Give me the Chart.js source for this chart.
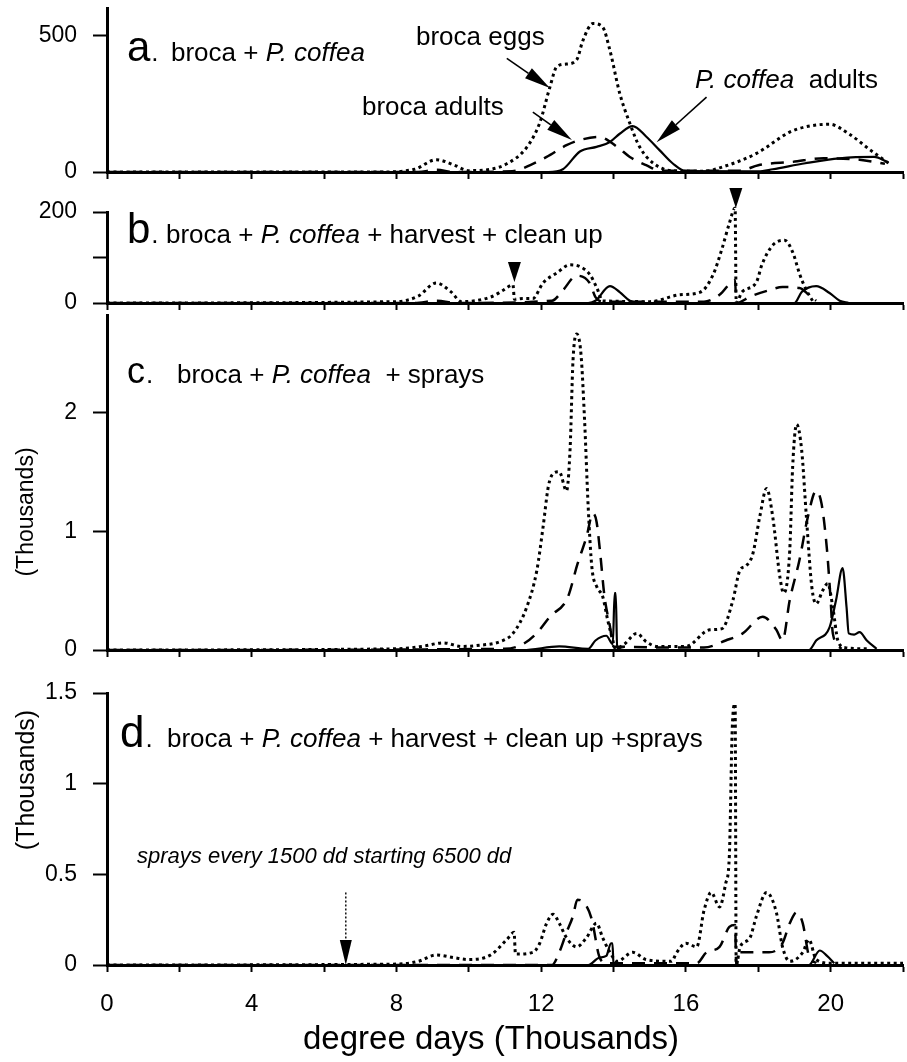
<!DOCTYPE html>
<html>
<head>
<meta charset="utf-8">
<script src="https://cdn.jsdelivr.net/npm/chart.js@4.4.1/dist/chart.umd.min.js"></script>
<style>
  html, body { margin: 0; padding: 0; background: #fff; }
  #wrap { position: relative; width: 907px; height: 1062px; overflow: hidden; }
  canvas { position: absolute; left: 0; }
</style>
</head>
<body>
<div id="wrap">
  <canvas id="pa" width="907" height="190" style="top:0px"></canvas>
  <canvas id="pb" width="907" height="135" style="top:180px"></canvas>
  <canvas id="pc" width="907" height="360" style="top:305px"></canvas>
  <canvas id="pd" width="907" height="397" style="top:665px"></canvas>
</div>
<script>
// x axis: degree days (thousands)
const xTicks  = [0, 2, 4, 6, 8, 10, 12, 14, 16, 18, 20, 22];
const xLabels = [0, 4, 8, 12, 16, 20];

// a. broca + P. coffea
const aEggsX  = [0, 7.5, 8.5, 9.1, 9.6, 10.0, 10.6, 11.05, 11.6, 11.96, 12.24, 12.43, 12.7, 12.98, 13.15, 13.43, 13.7, 13.9, 14.17, 14.45, 14.72, 15.1, 15.6, 16.5, 17.0, 17.95, 18.87, 19.3, 19.97, 20.5, 21.1, 21.6];
const aEggsY  = [0, 0, 10, 45, 25, 5, 10, 30, 90, 180, 310, 385, 395, 410, 480, 543, 530, 445, 288, 178, 92, 32, 5, 3, 18, 68, 146, 165, 175, 140, 80, 32];
const aAdultX = [0, 8.6, 9.1, 9.6, 11.2, 11.77, 12.15, 12.7, 13.07, 13.6, 14.1, 14.45, 14.9, 15.3, 17.5, 18.0, 18.95, 19.8, 20.8, 21.5];
const aAdultY = [0, 0, 8, 0, 3, 30, 55, 98, 117, 128, 92, 55, 25, 5, 5, 25, 37, 50, 45, 30];
const aCoffX  = [0, 12.2, 12.6, 13.07, 13.53, 13.9, 14.17, 14.53, 14.9, 15.27, 15.63, 16.0, 18.0, 18.4, 19.3, 20.25, 21.2, 21.6];
const aCoffY  = [0, 0, 10, 75, 92, 110, 140, 168, 130, 80, 32, 3, 2, 10, 32, 50, 55, 35];

// b. + harvest + clean up
const bEggsX  = [0, 8.0, 8.6, 9.1, 9.5, 9.8, 10.6, 10.95, 11.22, 11.26, 11.5, 11.77, 12.05, 12.43, 12.8, 13.07, 13.35, 13.54, 13.7, 15.0, 15.83, 16.4, 16.75, 17.0, 17.2, 17.36, 17.39, 17.55, 17.95, 18.1, 18.4, 18.73, 18.95, 19.15, 19.3, 19.5];
const bEggsY  = [0, 3, 15, 44, 25, 3, 13, 28, 40, 8, 10, 10, 44, 66, 84, 80, 62, 33, 5, 3, 18, 24, 62, 120, 175, 209, 0, 24, 46, 84, 127, 138, 112, 62, 33, 5];
const bAdultX = [0, 8.5, 9.1, 9.7, 12.3, 12.6, 12.98, 13.34, 13.5, 13.7, 16.5, 16.93, 17.36, 17.39, 17.8, 18.3, 18.67, 19.14, 19.4, 19.6];
const bAdultY = [0, 0, 5, 0, 5, 28, 60, 44, 13, 3, 3, 18, 50, 0, 15, 28, 35, 33, 18, 5];
const bCoffX  = [0, 13.3, 13.5, 13.9, 14.17, 14.45, 14.7, 19.0, 19.2, 19.6, 19.97, 20.25, 20.5];
const bCoffY  = [0, 0, 5, 37, 24, 5, 0, 0, 24, 37, 22, 5, 0];
const harvestMarks = [{ x: 11.26, y: 46 }, { x: 17.38, y: 209 }];

// c. + sprays (thousands)
const cEggsX  = [0, 8.0, 8.7, 9.3, 9.8, 10.3, 10.86, 11.22, 11.6, 11.88, 12.05, 12.2, 12.35, 12.5, 12.7, 12.8, 12.88, 12.98, 13.1, 13.2, 13.3, 13.4, 13.54, 13.7, 13.84, 13.98, 14.05, 14.3, 14.64, 14.9, 15.2, 16.0, 16.66, 17.0, 17.3, 17.49, 17.67, 17.85, 18.04, 18.23, 18.4, 18.6, 18.7, 18.87, 18.95, 19.06, 19.2, 19.33, 19.48, 19.6, 19.78, 19.92, 20.06, 20.2, 20.4, 21.0];
const cEggsY  = [0, 0.01, 0.03, 0.06, 0.03, 0.04, 0.07, 0.14, 0.36, 0.67, 1.03, 1.38, 1.49, 1.5, 1.34, 1.7, 2.44, 2.66, 2.49, 1.93, 1.2, 0.7, 0.53, 0.45, 0.25, 0.08, 0.01, 0.05, 0.14, 0.07, 0.03, 0.03, 0.17, 0.18, 0.42, 0.67, 0.71, 0.81, 1.12, 1.36, 1.12, 0.61, 0.48, 0.84, 1.54, 1.9, 1.68, 1.12, 0.53, 0.39, 0.5, 0.56, 0.36, 0.08, 0.02, 0.01];
const cAdultX = [0, 11.0, 11.5, 11.9, 12.24, 12.73, 13.0, 13.25, 13.43, 13.53, 13.62, 13.75, 13.9, 14.0, 16.5, 17.1, 17.57, 18.12, 18.5, 18.67, 18.87, 19.14, 19.37, 19.6, 19.75, 19.9, 20.0, 20.06, 20.3];
const cAdultY = [0, 0.01, 0.05, 0.15, 0.28, 0.44, 0.72, 0.95, 1.15, 1.08, 0.85, 0.45, 0.2, 0.03, 0.02, 0.08, 0.14, 0.28, 0.17, 0.08, 0.42, 0.76, 1.12, 1.34, 1.23, 0.84, 0.42, 0.14, 0.01];
const cCoffX  = [0, 11.5, 12.5, 13.3, 13.5, 13.8, 13.98, 14.03, 14.06, 14.1, 14.3, 19.4, 19.6, 19.97, 20.15, 20.33, 20.44, 20.5, 20.65, 20.8, 21.0, 21.27];
const cCoffY  = [0, 0, 0.03, 0.01, 0.08, 0.12, 0.05, 0.48, 0.48, 0.02, 0, 0, 0.08, 0.19, 0.42, 0.69, 0.36, 0.14, 0.13, 0.15, 0.08, 0.01];

// d. + harvest + clean up + sprays (thousands)
const dEggsX  = [0, 8.0, 8.6, 9.1, 9.6, 10.0, 10.6, 11.05, 11.25, 11.29, 11.77, 11.96, 12.15, 12.33, 12.5, 12.7, 12.98, 13.25, 13.53, 13.7, 13.9, 14.1, 14.53, 14.9, 15.6, 15.75, 16.0, 16.3, 16.5, 16.7, 16.93, 17.1, 17.2, 17.28, 17.36, 17.39, 17.5, 17.77, 17.95, 18.23, 18.5, 18.67, 18.87, 19.23, 19.4, 19.6, 20.0, 22.0];
const dEggsY  = [0, 0.005, 0.02, 0.055, 0.04, 0.03, 0.055, 0.14, 0.18, 0.06, 0.07, 0.12, 0.23, 0.28, 0.23, 0.15, 0.1, 0.15, 0.23, 0.15, 0.07, 0.02, 0.07, 0.03, 0.02, 0.07, 0.12, 0.1, 0.3, 0.4, 0.32, 0.45, 0.6, 1.3, 1.44, 0, 0.1, 0.15, 0.27, 0.4, 0.29, 0.1, 0.02, 0.07, 0.14, 0.03, 0.01, 0.01];
const dAdultX = [0, 12.3, 12.5, 12.7, 12.88, 13.0, 13.2, 13.4, 13.6, 13.8, 16.3, 16.57, 16.93, 17.2, 17.36, 17.39, 17.5, 18.04, 18.3, 18.67, 18.87, 19.06, 19.23, 19.4, 19.6];
const dAdultY = [0, 0, 0.07, 0.18, 0.27, 0.36, 0.34, 0.25, 0.05, 0.01, 0.01, 0.07, 0.1, 0.21, 0.22, 0, 0.07, 0.07, 0.07, 0.12, 0.23, 0.29, 0.23, 0.05, 0.01];
const dCoffX  = [0, 13.3, 13.6, 13.8, 13.93, 13.97, 14.0, 19.4, 19.7, 19.9, 20.1];
const dCoffY  = [0, 0, 0.04, 0.05, 0.12, 0.12, 0, 0, 0.08, 0.05, 0.01];
const sprayStart = { x: 6.6, y: 0.4 };

const FONT = "'Liberation Sans', Arial, sans-serif";
const CAP = 26; // caption font size
// line style per series kind
const STYLE = {
  eggs:  { w: 3,   dash: [3, 3.5] },
  adult: { w: 2.5, dash: [13, 9] },
  coff:  { w: 2.2, dash: [] }
};

function drawParts(ctx, x, y, size, parts) {
  parts.forEach(([t, it]) => {
    ctx.font = (it ? 'italic ' : '') + size + 'px ' + FONT;
    ctx.fillText(t, x, y);
    x += ctx.measureText(t).width;
  });
}

function arrow(ctx, x1, y1, x2, y2, len, w, dotted) {
  const a = Math.atan2(y2 - y1, x2 - x1);
  const bx = x2 - len * Math.cos(a), by = y2 - len * Math.sin(a);
  ctx.save();
  ctx.lineWidth = dotted ? 1.4 : 1.6;
  ctx.setLineDash(dotted ? [2, 2] : []);
  ctx.beginPath(); ctx.moveTo(x1, y1); ctx.lineTo(bx, by); ctx.stroke();
  ctx.restore();
  ctx.beginPath();
  ctx.moveTo(x2, y2);
  ctx.lineTo(bx + w / 2 * Math.sin(a), by - w / 2 * Math.cos(a));
  ctx.lineTo(bx - w / 2 * Math.sin(a), by + w / 2 * Math.cos(a));
  ctx.closePath(); ctx.fill();
}

function makeDeco(p) {
  return {
    id: 'deco',
    afterDraw(chart) {
      const ctx = chart.ctx, xs = chart.scales.x, ys = chart.scales.y;
      const off = p.top;
      ctx.save();
      ctx.fillStyle = '#000'; ctx.strokeStyle = '#000';
      ctx.textBaseline = 'alphabetic'; ctx.textAlign = 'left';
      // panel letter + caption
      const t = p.title;
      ctx.font = t.lsize + 'px ' + FONT;
      ctx.fillText(t.letter, t.lx, t.base - off);
      const lw = ctx.measureText(t.letter).width;
      ctx.font = CAP + 'px ' + FONT;
      ctx.fillText('.', t.lx + lw + 1, t.base - off);
      drawParts(ctx, t.rx, t.base - off, CAP, t.parts);
      (p.texts || []).forEach(s => drawParts(ctx, s.x, s.y - off, s.size, s.parts));
      (p.arrows || []).forEach(a => arrow(ctx,
        xs.getPixelForValue(a.x1), ys.getPixelForValue(a.y1),
        xs.getPixelForValue(a.x2), ys.getPixelForValue(a.y2), a.len, a.w, a.dotted));
      (p.marks || []).forEach(m => {
        const px = xs.getPixelForValue(m.x), py = ys.getPixelForValue(m.y);
        ctx.beginPath();
        ctx.moveTo(px, py); ctx.lineTo(px - 6.5, py - 20); ctx.lineTo(px + 6.5, py - 20);
        ctx.closePath(); ctx.fill();
      });
      (p.vtexts || []).forEach(v => {
        ctx.save();
        ctx.translate(v.x, v.y - off); ctx.rotate(-Math.PI / 2);
        ctx.textAlign = 'center'; ctx.textBaseline = 'middle';
        ctx.font = v.size + 'px ' + FONT;
        ctx.fillText(v.t, 0, 0);
        ctx.restore();
      });
      if (p.xtitle) {
        ctx.textAlign = 'center'; ctx.textBaseline = 'middle';
        ctx.font = p.xtitle.size + 'px ' + FONT;
        ctx.fillText(p.xtitle.t, p.xtitle.x, p.xtitle.y - off);
      }
      ctx.restore();
    }
  };
}

function panel(id, p) {
  const datasets = p.series.map(([xs, ys, kind]) => ({
    data: xs.map((x, i) => ({ x, y: ys[i] })),
    borderColor: '#000',
    borderWidth: STYLE[kind].w,
    borderDash: STYLE[kind].dash,
    pointRadius: 0,
    fill: false,
    clip: false,
    cubicInterpolationMode: 'monotone'
  }));
  return new Chart(document.getElementById(id), {
    type: 'line',
    data: { datasets },
    options: {
      responsive: false,
      animation: false,
      devicePixelRatio: 1,
      layout: { padding: { top: p.padTop, right: 4, left: 0, bottom: 0 } },
      plugins: { legend: { display: false }, tooltip: { enabled: false } },
      scales: {
        x: {
          type: 'linear', min: 0, max: 22,
          afterBuildTicks: s => { s.ticks = xTicks.map(v => ({ value: v })); },
          afterFit: s => { s.height = p.xH; s.paddingLeft = 0; s.paddingRight = 0; },
          grid: { drawOnChartArea: false, tickLength: 7, tickWidth: 2, tickColor: '#000' },
          border: { color: '#000', width: 3 },
          ticks: {
            autoSkip: false, maxRotation: 0, padding: 18, color: '#000',
            font: { family: FONT, size: 24 },
            callback: v => (p.showX && xLabels.includes(v)) ? String(v) : ''
          }
        },
        y: {
          type: 'linear', min: 0, max: p.yMax,
          afterBuildTicks: s => { s.ticks = p.yTicks.map(v => ({ value: v })); },
          afterFit: s => { s.width = 107; s.paddingTop = 0; s.paddingBottom = 0; },
          grid: { drawOnChartArea: false, tickLength: 14, tickWidth: 2, tickColor: '#000' },
          border: { color: '#000', width: 3 },
          ticks: {
            padding: 16, color: '#000',
            font: { family: FONT, size: 23 },
            callback: v => p.yLabels.includes(v) ? String(v) : ''
          }
        }
      }
    },
    plugins: [makeDeco(p)]
  });
}

panel('pa', {
  top: 0, padTop: 8, xH: 18, yMax: 600, yTicks: [0, 500], yLabels: [0, 500],
  series: [[aEggsX, aEggsY, 'eggs'], [aAdultX, aAdultY, 'adult'], [aCoffX, aCoffY, 'coff']],
  title: { letter: 'a', lsize: 42, lx: 127, base: 61, rx: 171, parts: [['broca + ', 0], ['P. coffea', 1]] },
  texts: [
    { x: 416, y: 45, size: CAP, parts: [['broca eggs', 0]] },
    { x: 362, y: 115, size: CAP, parts: [['broca adults', 0]] },
    { x: 695, y: 88, size: CAP, parts: [['P. coffea', 1], ['  adults', 0]] }
  ],
  arrows: [
    { x1: 11.05, y1: 416, x2: 12.24, y2: 307, len: 26, w: 12 },
    { x1: 11.77, y1: 219, x2: 12.85, y2: 117, len: 26, w: 12 },
    { x1: 16.57, y1: 274, x2: 15.19, y2: 109, len: 26, w: 12 }
  ]
});

panel('pb', {
  top: 180, padTop: 32, xH: 12, yMax: 200, yTicks: [0, 100, 200], yLabels: [0, 200],
  series: [[bEggsX, bEggsY, 'eggs'], [bAdultX, bAdultY, 'adult'], [bCoffX, bCoffY, 'coff']],
  title: { letter: 'b', lsize: 42, lx: 127, base: 243, rx: 166, parts: [['broca + ', 0], ['P. coffea', 1], [' + harvest + clean up', 0]] },
  marks: harvestMarks
});

panel('pc', {
  top: 305, padTop: 10, xH: 15, yMax: 2.82, yTicks: [0, 1, 2], yLabels: [0, 1, 2],
  series: [[cEggsX, cEggsY, 'eggs'], [cAdultX, cAdultY, 'adult'], [cCoffX, cCoffY, 'coff']],
  title: { letter: 'c', lsize: 36, lx: 127, base: 383, rx: 177, parts: [['broca + ', 0], ['P. coffea', 1], ['  + sprays', 0]] },
  vtexts: [{ x: 27, y: 512, size: 23, t: '(Thousands)' }]
});

panel('pd', {
  top: 665, padTop: 28, xH: 97, yMax: 1.5, yTicks: [0, 0.5, 1, 1.5], yLabels: [0, 0.5, 1, 1.5],
  showX: true,
  series: [[dEggsX, dEggsY, 'eggs'], [dAdultX, dAdultY, 'adult'], [dCoffX, dCoffY, 'coff']],
  title: { letter: 'd', lsize: 44, lx: 120, base: 747, rx: 167, parts: [['broca + ', 0], ['P. coffea', 1], [' + harvest + clean up +sprays', 0]] },
  texts: [{ x: 137, y: 863, size: 22, parts: [['sprays every 1500 dd starting 6500 dd', 1]] }],
  arrows: [{ x1: sprayStart.x, y1: sprayStart.y, x2: sprayStart.x, y2: 0, len: 25, w: 12, dotted: true }],
  vtexts: [{ x: 27, y: 780, size: 25, t: '(Thousands)' }],
  xtitle: { x: 491, y: 1040, size: 33, t: 'degree days (Thousands)' }
});
</script>
</body>
</html>
